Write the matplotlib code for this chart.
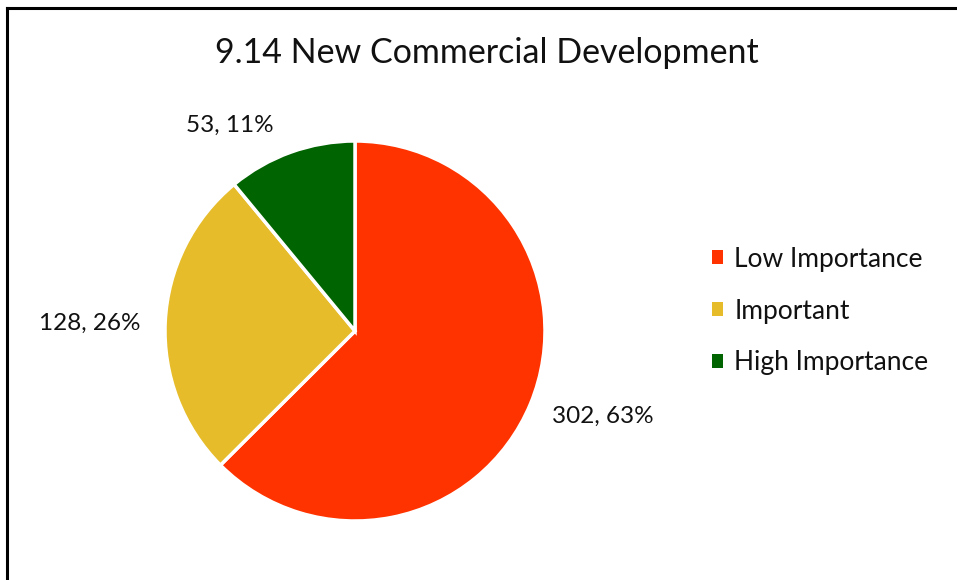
import matplotlib
matplotlib.use("Agg")
import matplotlib.pyplot as plt
from matplotlib.lines import Line2D

categories = ["Low Importance", "Important", "High Importance"]
values = [302, 128, 53]
percent_labels = ["63%", "26%", "11%"]
colors = ["#FF3300", "#E6BC2A", "#006400"]
title = "9.14 New Commercial Development"

plt.rcParams['font.family'] = ['Lato', 'DejaVu Sans']

W, H = 957, 580
fig = plt.figure(figsize=(W / 100, H / 100), dpi=100)

# pie axes: center (355,331) px, radius 190 px
cx, cy, r = 355, 331, 190
ax = fig.add_axes([(cx - r) / W, (H - cy - r) / H, 2 * r / W, 2 * r / H])
wedges, texts = ax.pie(values, colors=colors, startangle=90, counterclock=False,
                       radius=1.0,
                       wedgeprops=dict(edgecolor="white", linewidth=2.5),
                       labels=[f"{v}, {p}" for v, p in zip(values, percent_labels)],
                       labeldistance=1.3,
                       textprops=dict(fontsize=17.5, color="#111111"))
ax.set_xlim(-1, 1)
ax.set_ylim(-1, 1)
ax.set_aspect("equal")
ax.axis("off")

# label positions (data units) tuned to reference
label_pos = [(1.305, -0.447), (-1.395, 0.042), (-0.658, 1.084)]
for t, (x, y) in zip(texts, label_pos):
    t.set_position((x, y))
    t.set_ha("center")
    t.set_va("center")

fig.text(487 / W, 1 - 53 / H, title, ha="center", va="center", fontsize=24.5, color="#111111")

leg = fig.legend(wedges, categories, loc="center left",
                 bbox_to_anchor=(712 / W, 1 - 311 / H), frameon=False,
                 fontsize=19, handlelength=0.4, handleheight=0.4,
                 handletextpad=0.45, labelspacing=1.02, borderpad=0,
                 borderaxespad=0)
for h in leg.legend_handles:
    h.set_edgecolor("none")
for t in leg.get_texts():
    t.set_color("#111111")

# figure border (left and top)
fig.add_artist(Line2D([7.5 / W, 7.5 / W], [0, 1 - 8 / H], transform=fig.transFigure,
                      color="black", linewidth=2.2))
fig.add_artist(Line2D([7.5 / W, 1], [1 - 8 / H, 1 - 8 / H], transform=fig.transFigure,
                      color="black", linewidth=2.2))

fig.savefig("out.png", dpi=100)
